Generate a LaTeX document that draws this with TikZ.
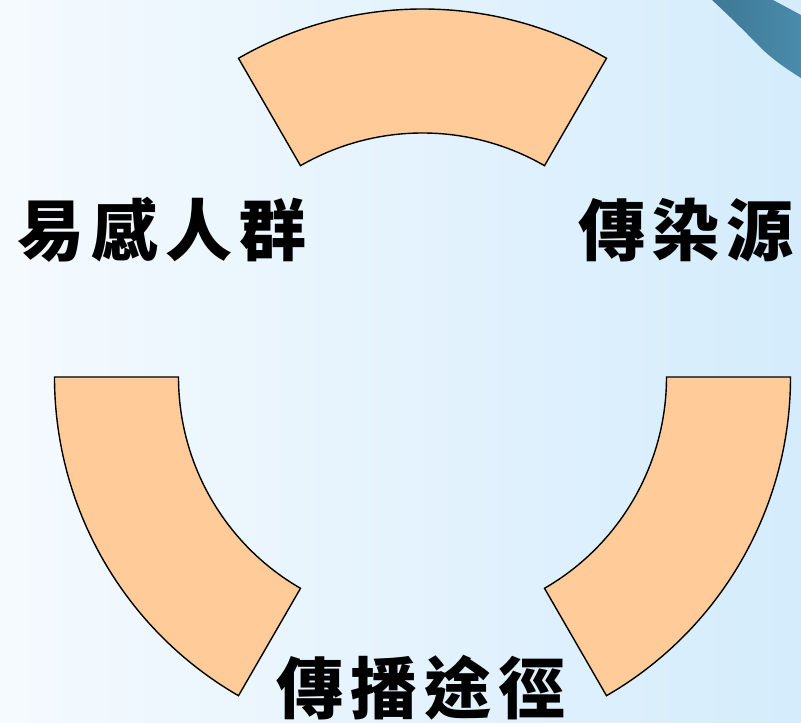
\documentclass[tikz,border=0pt]{standalone}
\usepackage{fontspec}
\newfontfamily\cjk{Noto Sans CJK TC}
\usetikzlibrary{calc}
\definecolor{bgL}{HTML}{F5FAFE}
\definecolor{bgR}{HTML}{D4ECFC}
\definecolor{stripeA}{HTML}{3E7895}
\definecolor{stripeB}{HTML}{4A8BAB}
\definecolor{sector}{HTML}{FFCC99}
\tikzset{
  sectorshape/.style={fill=sector, draw=black, line width=1.4pt, line join=miter},
  label/.style={font=\cjk\bfseries\fontsize{67}{67}\selectfont, text=black, inner sep=0pt}
}
\begin{document}
\begin{tikzpicture}[x=1pt,y=1pt]
\useasboundingbox (0,0) rectangle (801,723);
\shade[left color=bgL, right color=bgR] (0,0) rectangle (801,723);
% top-right stripe
\shade[left color=stripeA, right color=stripeB]
  (712,723) .. controls (740,697) and (752,684) .. (763,673)
  .. controls (775,662) and (788,653) .. (801,645) -- (801,708) -- (773,723) -- cycle;
\coordinate (C) at (422.5,346);
% top sector
\path[sectorshape] ($(C)+(60:368pt)$) arc[start angle=60, end angle=120, radius=368pt]
  -- ($(C)+(120:244pt)$) arc[start angle=120, end angle=60, radius=244pt] -- cycle;
% left sector
\path[sectorshape] ($(C)+(180:368pt)$) arc[start angle=180, end angle=240, radius=368pt]
  -- ($(C)+(240:244pt)$) arc[start angle=240, end angle=180, radius=244pt] -- cycle;
% right sector
\path[sectorshape] ($(C)+(300:368pt)$) arc[start angle=300, end angle=360, radius=368pt]
  -- ($(C)+(0:244pt)$) arc[start angle=360, end angle=300, radius=244pt] -- cycle;
\node[label] (sus) at (162,493) {易\hspace{7pt}感\hspace{7pt}人\hspace{7pt}群};
\node[label] (src) at (686,493) {傳\hspace{7pt}染\hspace{7pt}源};
\node[label] (route) at (421,35) {傳\hspace{7pt}播\hspace{7pt}途\hspace{7pt}徑};
\end{tikzpicture}
\end{document}
